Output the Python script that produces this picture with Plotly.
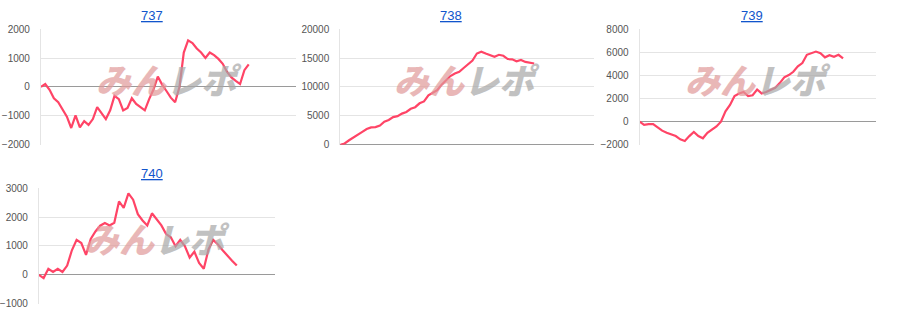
import plotly.graph_objects as go

titles = ["737", "738", "739", "740"]

s737 = [0, 100, -100, -390, -530, -800, -1030, -1420, -980, -1400, -1180, -1310, -1110, -700,
        -920, -1110, -810, -310, -420, -810, -730, -390, -590, -700, -810, -420, -90, 360, 80,
        -140, -370, -530, 0, 1190, 1610, 1520, 1330, 1190, 1000, 1190, 1100, 970, 800, 520,
        330, 210, 100, 580, 780]
s738 = [0, 220, 780, 1220, 1780, 2220, 2720, 3000, 3060, 3330, 4000, 4280, 4780, 4940, 5390,
        5670, 6220, 6500, 7170, 7500, 8560, 9000, 9440, 10390, 11220, 11890, 12330, 12610,
        13280, 13890, 14560, 15780, 16110, 15780, 15500, 15220, 15560, 15390, 14830, 14780,
        14440, 14670, 14330, 14170, 14060]
s739 = [0, -280, -220, -220, -500, -780, -970, -1110, -1250, -1530, -1670, -1250, -890, -1250,
        -1440, -970, -690, -420, 0, 890, 1440, 2220, 2440, 2560, 2220, 2280, 2780, 2440, 2560,
        2720, 2920, 3330, 3830, 4030, 4310, 4780, 5060, 5780, 5890, 6060, 5920, 5560, 5750,
        5610, 5780, 5470]
s740 = [0, -110, 210, 100, 210, 100, 320, 850, 1210, 1100, 690, 1240, 1500, 1700, 1790, 1710,
        1800, 2540, 2320, 2820, 2600, 2100, 1880, 1710, 2130, 1930, 1710, 1410, 1300, 990,
        1210, 990, 600, 800, 410, 210, 880, 1210, 1050, 850, 660, 490, 320]
series = [s737, s738, s739, s740]

y_ranges = [[-2000, 2000], [0, 20000], [-2000, 8000], [-1000, 3000]]
y_dticks = [1000, 5000, 2000, 1000]
x_max = [59, 57.5, 52.3, 50.2]

W, H = 900, 330
# plot boxes in pixels: (left, right, top, bottom)
boxes = [(39, 295, 24, 144), (339, 593, 24, 144), (639, 876, 24, 144), (37, 274, 189, 309)]
title_pos = [(150, 10), (450, 10), (752, 10), (150, 174)]

LINE = "#ff4466"
fig = go.Figure()
annotations = []
for i in range(4):
    ax = "" if i == 0 else str(i + 1)
    l, r, t, b = boxes[i]
    fig.add_trace(go.Scatter(
        x=list(range(len(series[i]))), y=series[i], mode="lines",
        line=dict(color=LINE, width=2.2), xaxis="x" + ax, yaxis="y" + ax,
        showlegend=False, hoverinfo="y"))
    fig.layout["xaxis" + ax] = dict(
        domain=[l / W, r / W], range=[0, x_max[i]], showgrid=False, zeroline=False,
        showticklabels=False, showline=False, fixedrange=True, anchor="y" + ax)
    fig.layout["yaxis" + ax] = dict(
        domain=[1 - b / H, 1 - t / H], range=y_ranges[i], dtick=y_dticks[i],
        tickformat="d",
        showgrid=True, gridcolor="#e4e4e4", gridwidth=1,
        zeroline=True, zerolinecolor="#9a9a9a", zerolinewidth=1,
        showline=True, linecolor="#e4e4e4", linewidth=1,
        ticks="outside", ticklen=8, tickcolor="rgba(0,0,0,0)",
        tickfont=dict(family="Arial, Liberation Sans", size=10, color="#555555"),
        fixedrange=True, anchor="x" + ax)
    tx, ty = title_pos[i]
    annotations.append(dict(
        text="<u>" + titles[i] + "</u>", x=tx / W, y=1 - ty / H, xref="paper", yref="paper",
        xanchor="center", yanchor="middle", showarrow=False,
        font=dict(family="Arial, Liberation Sans", size=13, color="#1155cc")))
    cx = (l + r) / 2
    cy = t + (b - t) * 0.43
    annotations.append(dict(
        text="<i><span style='color:#e09a9a'>みん</span><span style='color:#a8a8a8'>レポ</span></i>",
        x=cx / W, y=1 - cy / H, xref="paper", yref="paper",
        xanchor="center", yanchor="middle", showarrow=False, opacity=0.7,
        font=dict(family="Noto Sans CJK JP", size=35, weight=900)))

fig.update_layout(
    width=W, height=H, margin=dict(l=0, r=0, t=0, b=0),
    paper_bgcolor="white", plot_bgcolor="white", annotations=annotations)

fig.write_html("out.html", config={"displayModeBar": False})
